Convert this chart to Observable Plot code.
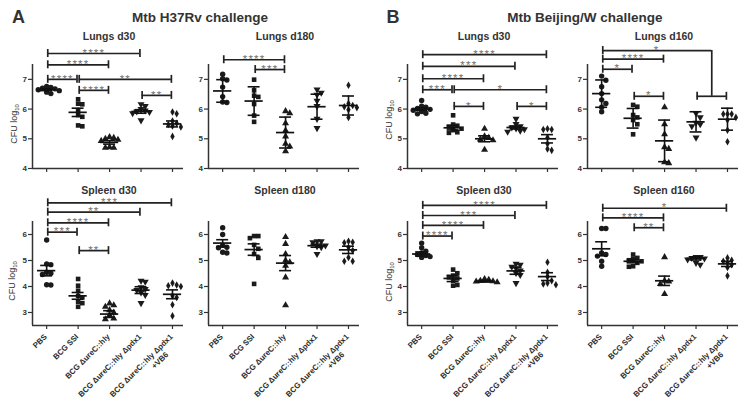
<!DOCTYPE html>
<html><head><meta charset="utf-8">
<script src="https://cdn.jsdelivr.net/npm/d3@7"></script>
<script src="https://cdn.jsdelivr.net/npm/@observablehq/plot@0.6"></script>
<style>
body{margin:0;background:#fff;font-family:"Liberation Sans",Arial,sans-serif;}
#wrap{position:relative;width:749px;height:406px;overflow:hidden;background:#fff;}
.pan{position:absolute;}
.t{position:absolute;transform:translate(-50%,-50%);white-space:nowrap;line-height:1;font-weight:bold;color:#333;}
.ylab{position:absolute;transform:translate(-50%,-50%) rotate(-90deg);white-space:nowrap;line-height:1;font-size:9px;color:#333;}
.ylab sub{font-size:6px;vertical-align:-2px;}
</style></head><body><div id="wrap"></div>
<script>
const groups = ["PBS", "BCG SSI", "BCG ΔureC::hly", "BCG ΔureC::hly Δpdx1", "BCG ΔureC::hly Δpdx1\n+VB6"];
const sectionTitles = ["Mtb H37Rv challenge", "Mtb Beijing/W challenge"];
const sectionLetters = ["A", "B"];
const panelTitles = ["Lungs d30", "Lungs d180", "Lungs d30", "Lungs d160", "Spleen d30", "Spleen d180", "Spleen d30", "Spleen d160"];
const lungTicks = [4, 5, 6, 7];
const spleenTicks = [3, 4, 5, 6];
const lungDomain = [4, 7.5];
const spleenDomain = [2.5, 6.5];

// ---- A: Mtb H37Rv, lungs d30 ----
const aLungsD30 = [
  [6.76, 6.73, 6.7, 6.68, 6.65, 6.62, 6.57, 6.52],
  [6.33, 6.18, 6.16, 5.96, 5.8, 5.74, 5.45, 5.42],
  [5.06, 5.03, 5.0, 4.97, 4.93, 4.72, 4.7, 4.7],
  [6.16, 6.1, 6.0, 5.95, 5.92, 5.9, 5.86, 5.62],
  [5.9, 5.84, 5.6, 5.52, 5.48, 5.43, 5.4, 5.08]];
const aLungsD30Mean = [6.65, 5.89, 4.88, 5.92, 5.5];
const aLungsD30Err = [0.03, 0.14, 0.06, 0.06, 0.1];
const aLungsD30Sig = [[0,3,7.87,"****"],[0,2,7.49,"****"],[0,1,7.0,"****"],[1,4,7.0,"**"],[1,2,6.63,"****"],[3,4,6.46,"**"]];

// ---- A: lungs d180 ----
const aLungsD180 = [
  [7.17, 7.02, 6.98, 6.74, 6.42, 6.24, 6.22],
  [6.99, 6.63, 6.45, 6.41, 6.17, 5.78, 5.57],
  [5.93, 5.86, 5.52, 5.28, 5.08, 4.83, 4.74, 4.58],
  [6.66, 6.55, 6.48, 6.28, 6.1, 5.67, 5.36],
  [6.8, 6.19, 6.12, 6.08, 6.05, 5.98, 5.72]];
const aLungsD180Mean = [6.61, 6.27, 5.21, 6.08, 6.12];
const aLungsD180Err = [0.38, 0.48, 0.52, 0.42, 0.32];
const aLungsD180Sig = [[0,2,7.66,"****"],[1,2,7.33,"***"]];

// ---- B: Mtb Beijing/W, lungs d30 ----
const bLungsD30 = [
  [6.29, 6.1, 6.06, 6.02, 5.99, 5.96, 5.92, 5.86, 5.84],
  [5.79, 5.48, 5.44, 5.41, 5.34, 5.29, 5.22, 5.2],
  [5.34, 5.08, 5.03, 4.98, 4.95, 4.63],
  [5.67, 5.5, 5.42, 5.38, 5.35, 5.32, 5.27, 5.24],
  [5.34, 5.31, 5.31, 5.04, 4.83, 4.66, 4.61]];
const bLungsD30Mean = [6.0, 5.37, 5.0, 5.38, 5.0];
const bLungsD30Err = [0.04, 0.07, 0.1, 0.05, 0.14];
const bLungsD30Sig = [[0,4,7.83,"****"],[0,3,7.44,"***"],[0,2,7.02,"****"],[0,1,6.65,"***"],[1,4,6.65,"*"],[1,2,6.09,"*"],[3,4,6.09,"*"]];

// ---- B: lungs d160 ----
const bLungsD160 = [
  [7.11, 6.97, 6.75, 6.52, 6.31, 6.19, 6.06, 5.91],
  [6.14, 6.08, 5.8, 5.72, 5.63, 5.49, 5.15],
  [6.06, 5.49, 5.15, 4.72, 4.66, 4.21, 4.18],
  [5.86, 5.72, 5.54, 5.49, 5.42, 5.04],
  [5.83, 5.83, 5.83, 5.72, 5.63, 5.29, 4.9]];
const bLungsD160Mean = [6.52, 5.69, 4.93, 5.57, 5.66];
const bLungsD160Err = [0.46, 0.33, 0.7, 0.34, 0.37];
const bLungsD160Sig = [[0,[3,4],7.97,"*",6.43],[0,2,7.68,"****"],[0,1,7.34,"*"],[1,2,6.43,"*"]];

// ---- A: spleen d30 ----
const aSpleenD30 = [
  [5.79, 4.87, 4.84, 4.55, 4.51, 4.46, 4.07, 4.06],
  [4.29, 4.03, 3.84, 3.64, 3.58, 3.41, 3.36, 3.22],
  [3.35, 3.28, 3.22, 3.09, 3.0, 2.9, 2.77, 2.74],
  [4.22, 4.18, 3.97, 3.9, 3.86, 3.77, 3.67, 3.36],
  [4.13, 4.06, 4.03, 4.0, 3.64, 3.58, 3.3, 2.87]];
const aSpleenD30Mean = [4.61, 3.64, 2.94, 3.86, 3.7];
const aSpleenD30Err = [0.2, 0.13, 0.13, 0.13, 0.17];
const aSpleenD30Sig = [[0,4,7.22,"***"],[0,3,6.86,"**"],[0,2,6.45,"****"],[0,1,6.09,"***"],[1,2,5.38,"**"]];

// ---- A: spleen d180 ----
const aSpleenD180 = [
  [6.26, 6.0, 5.58, 5.51, 5.49, 5.32, 5.29],
  [5.94, 5.94, 5.86, 5.6, 5.45, 5.25, 5.1, 4.1],
  [5.9, 5.64, 5.25, 5.0, 4.93, 4.8, 4.35, 3.28],
  [5.74, 5.74, 5.7, 5.58, 5.55, 5.51, 5.25],
  [5.74, 5.7, 5.68, 5.51, 5.38, 5.12, 4.97, 4.97]];
const aSpleenD180Mean = [5.67, 5.42, 4.9, 5.57, 5.41];
const aSpleenD180Err = [0.13, 0.22, 0.29, 0.06, 0.14];
const aSpleenD180Sig = [];

// ---- B: spleen d30 ----
const bSpleenD30 = [
  [5.67, 5.49, 5.36, 5.29, 5.23, 5.19, 5.15, 5.12],
  [4.65, 4.51, 4.42, 4.35, 4.31, 4.22, 4.06, 4.03],
  [4.29, 4.26, 4.22, 4.2, 4.19, 4.16],
  [4.87, 4.84, 4.76, 4.7, 4.61, 4.52, 4.44, 4.13],
  [4.93, 4.55, 4.38, 4.22, 4.13, 4.1, 4.07]];
const bSpleenD30Mean = [5.25, 4.31, 4.2, 4.6, 4.38];
const bSpleenD30Err = [0.08, 0.12, 0.03, 0.13, 0.15];
const bSpleenD30Sig = [[0,4,7.12,"****"],[0,3,6.73,"***"],[0,2,6.35,"****"],[0,1,5.94,"****"]];

// ---- B: spleen d160 ----
const bSpleenD160 = [
  [6.23, 6.23, 5.29, 5.23, 5.17, 4.97, 4.78],
  [5.23, 5.1, 5.06, 5.01, 4.97, 4.91, 4.78, 4.76],
  [5.13, 4.22, 4.19, 4.1, 3.71],
  [5.13, 5.13, 5.1, 5.08, 5.04, 4.91, 4.84],
  [5.1, 5.01, 4.97, 4.91, 4.84, 4.73, 4.41]];
const bSpleenD160Mean = [5.45, 4.97, 4.22, 5.08, 4.87];
const bSpleenD160Err = [0.27, 0.06, 0.18, 0.06, 0.1];
const bSpleenD160Sig = [[0,4,7.01,"*"],[0,2,6.64,"****"],[1,2,6.26,"**"]];

// ------------- drawing -------------
const wrap = document.getElementById("wrap");
const FONT = "'Liberation Sans', Arial, sans-serif";
const ML = 32, MR = 6, FW = 151, XDOM = [-0.45, 4.35];
const sqrt3 = Math.sqrt(3);
const triangleDown = {draw(ctx, size) {
  const y = -Math.sqrt(size / (sqrt3 * 3));
  ctx.moveTo(0, -y * 2); ctx.lineTo(-sqrt3 * y, y); ctx.lineTo(sqrt3 * y, y); ctx.closePath();
}};
const symbols = [["circle", 2.7], ["square", 2.6], ["triangle", 2.6], [triangleDown, 2.6], ["diamond", 2.3]];

function dodge(vals, ppu, ppc, diam) {
  const placed = [], out = [];
  const order = vals.map((v, i) => i).sort((a, b) => vals[b] - vals[a]);
  const step = diam;
  for (const i of order) {
    const py = vals[i] * ppu;
    let off = 0;
    for (let k = 0; k < 30; k++) {
      const c = k === 0 ? 0 : (k % 2 ? 1 : -1) * Math.ceil(k / 2) * step;
      if (placed.every(p => Math.hypot(p.x - c, p.y - py) >= diam)) { off = c; break; }
    }
    placed.push({x: off, y: py});
    out[i] = off / ppc;
  }
  return out;
}

function panel(cfg) {
  const {values, means, errs, sig, ydom, yticks, left, top, mt, fh, mb, labels} = cfg;
  const H = mt + fh + mb;
  const ppu = fh / (ydom[1] - ydom[0]);
  const ppc = FW / (XDOM[1] - XDOM[0]);
  const cap = 4 / ppu;
  const pts = [];
  values.forEach((vals, g) => {
    const off = dodge(vals, ppu, ppc, 4.2);
    vals.forEach((v, j) => pts.push({g, x: g + off[j], y: v}));
  });
  const stats = means.map((m, g) => ({g, m, e: errs[g]}));
  const hs = [], vs = [], stars = [];
  const ins = 0.035;
  const addBracket = (a, b, lvl) => {
    hs.push({x1: a + ins, x2: b - ins, y: lvl});
    vs.push({x: a + ins, y1: lvl - cap, y2: lvl + cap});
    vs.push({x: b - ins, y1: lvl - cap, y2: lvl + cap});
  };
  for (const s of sig) {
    const [a, b, lvl, lab, sub] = s;
    if (Array.isArray(b)) {
      const mid = (b[0] + b[1]) / 2;
      hs.push({x1: a + ins, x2: mid, y: lvl});
      vs.push({x: a + ins, y1: lvl - cap, y2: lvl + cap});
      vs.push({x: mid, y1: sub, y2: lvl});
      addBracket(b[0], b[1], sub);
      stars.push({x: (a + mid) / 2, y: lvl, t: lab});
    } else {
      addBracket(a, b, lvl);
      stars.push({x: (a + b) / 2, y: lvl, t: lab});
    }
  }
  const ink = "#1b1b1b";
  const marks = [
    Plot.ruleX([XDOM[0]], {stroke: "#333", strokeWidth: 1.5}),
    Plot.ruleY([ydom[0]], {stroke: "#333", strokeWidth: 1.5}),
    Plot.axisY({ticks: yticks, tickSize: 4, tickPadding: 1.5, tickFormat: d => String(d), fontSize: 8, fontWeight: "bold", label: null, strokeWidth: 1.2}),
    Plot.axisX({ticks: [0, 1, 2, 3, 4], tickSize: 4, tickFormat: () => "", label: null, strokeWidth: 1.2}),
    ...values.map((v, g) => Plot.dot(pts.filter(p => p.g === g), {x: "x", y: "y", symbol: symbols[g][0], r: symbols[g][1], fill: ink, stroke: "none"})),
    Plot.ruleY(stats, {x1: d => d.g - 0.29, x2: d => d.g + 0.29, y: "m", stroke: "#111", strokeWidth: 1.7}),
    Plot.ruleY(stats, {x1: d => d.g - 0.19, x2: d => d.g + 0.19, y: d => d.m + d.e, stroke: "#111", strokeWidth: 1.6}),
    Plot.ruleY(stats, {x1: d => d.g - 0.19, x2: d => d.g + 0.19, y: d => d.m - d.e, stroke: "#111", strokeWidth: 1.6}),
    Plot.ruleX(stats, {x: "g", y1: d => d.m - d.e, y2: d => d.m + d.e, stroke: "#111", strokeWidth: 1.6}),
    Plot.ruleY(hs, {x1: "x1", x2: "x2", y: "y", stroke: "#222", strokeWidth: 1.7}),
    Plot.ruleX(vs, {x: "x", y1: "y1", y2: "y2", stroke: "#222", strokeWidth: 1.7}),
    Plot.text(stars, {x: "x", y: "y", text: "t", fontSize: 11.5, fill: "#707070", dy: -0.5})
  ];
  if (labels) {
    marks.push(Plot.text([0, 1, 2, 3, 4], {x: d => d, frameAnchor: "bottom", text: d => groups[d].split("\n")[0], rotate: -45, textAnchor: "end", lineAnchor: "middle", dx: -1, dy: 10, fontSize: 7.8, fontWeight: "bold", fill: "#2a2a2a"}));
    marks.push(Plot.text([4], {x: d => d, frameAnchor: "bottom", text: d => groups[d].split("\n")[1], rotate: -45, textAnchor: "middle", lineAnchor: "middle", dx: -12.5, dy: 35, fontSize: 7.8, fontWeight: "bold", fill: "#2a2a2a"}));
  }
  const svg = Plot.plot({
    width: ML + FW + MR, height: H,
    marginLeft: ML, marginRight: MR, marginTop: mt, marginBottom: mb,
    x: {domain: XDOM}, y: {domain: ydom},
    style: {background: "transparent", overflow: "visible", color: "#333", fontFamily: FONT},
    marks
  });
  svg.querySelectorAll("text").forEach(t => { if (/^\*+$/.test(t.textContent)) t.style.letterSpacing = "1.2px"; });
  const div = document.createElement("div");
  div.className = "pan";
  div.style.left = left + "px"; div.style.top = top + "px";
  div.style.width = (ML + FW + MR) + "px";
  div.appendChild(svg);
  wrap.appendChild(div);
}

const axisXs = [32, 208, 407, 587];
const topRow = {ydom: lungDomain, yticks: lungTicks, top: 38, mt: 26, fh: 104, mb: 10, labels: false};
const botRow = {ydom: spleenDomain, yticks: spleenTicks, top: 193, mt: 28, fh: 104, mb: 85, labels: true};
const panels = [
  [topRow, aLungsD30, aLungsD30Mean, aLungsD30Err, aLungsD30Sig],
  [topRow, aLungsD180, aLungsD180Mean, aLungsD180Err, aLungsD180Sig],
  [topRow, bLungsD30, bLungsD30Mean, bLungsD30Err, bLungsD30Sig],
  [topRow, bLungsD160, bLungsD160Mean, bLungsD160Err, bLungsD160Sig],
  [botRow, aSpleenD30, aSpleenD30Mean, aSpleenD30Err, aSpleenD30Sig],
  [botRow, aSpleenD180, aSpleenD180Mean, aSpleenD180Err, aSpleenD180Sig],
  [botRow, bSpleenD30, bSpleenD30Mean, bSpleenD30Err, bSpleenD30Sig],
  [botRow, bSpleenD160, bSpleenD160Mean, bSpleenD160Err, bSpleenD160Sig]
];
panels.forEach(([row, values, means, errs, sig], i) => {
  const ax = axisXs[i % 4];
  panel({...row, values, means, errs, sig, left: ax - ML});
  const t = document.createElement("div");
  t.className = "t"; t.style.fontSize = "10.5px";
  t.textContent = panelTitles[i];
  t.style.left = (ax + 77) + "px";
  t.style.top = (i < 4 ? 36 : 190) + "px";
  wrap.appendChild(t);
});
sectionLetters.forEach((L, i) => {
  const d = document.createElement("div");
  d.className = "t"; d.style.fontSize = "18px";
  d.textContent = L;
  d.style.left = (i === 0 ? 18.5 : 393) + "px"; d.style.top = "16.5px";
  wrap.appendChild(d);
});
sectionTitles.forEach((s, i) => {
  const d = document.createElement("div");
  d.className = "t"; d.style.fontSize = "13.5px";
  d.textContent = s;
  d.style.left = (i === 0 ? 200 : 585) + "px"; d.style.top = "17.5px";
  wrap.appendChild(d);
});
[[15, 124], [390, 120], [13, 281], [390, 282]].forEach(([x, y]) => {
  const d = document.createElement("div");
  d.className = "ylab";
  d.innerHTML = "CFU log<sub>10</sub>";
  d.style.left = x + "px"; d.style.top = y + "px";
  wrap.appendChild(d);
});
</script></body></html>
